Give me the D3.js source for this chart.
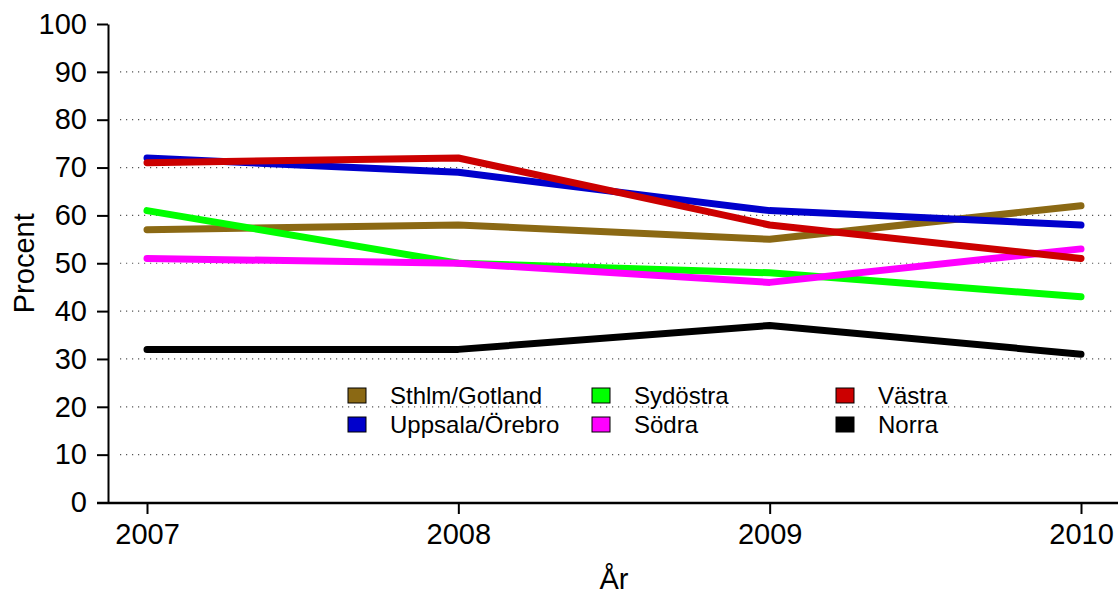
<!DOCTYPE html>
<html>
<head>
<meta charset="utf-8">
<script src="https://cdn.jsdelivr.net/npm/d3@7"></script>
<style>
  body { margin: 0; background: #fff; }
  svg { font-family: "Liberation Sans", Arial, sans-serif; }
</style>
</head>
<body>
<svg width="1120" height="594"></svg>
<script>
const years = [2007, 2008, 2009, 2010];
const regions = ["Sthlm/Gotland", "Uppsala/Örebro", "Sydöstra", "Södra", "Västra", "Norra"];
const colors = ["#8B6914", "#0000CC", "#00FF00", "#FF00FF", "#CC0000", "#000000"];
const sthlm = [57, 58, 55, 62];
const uppsala = [72, 69, 61, 58];
const sydostra = [61, 50, 48, 43];
const sodra = [51, 50, 46, 53];
const vastra = [71, 72, 58, 51];
const norra = [32, 32, 37, 31];
const yTicks = [0, 10, 20, 30, 40, 50, 60, 70, 80, 90, 100];

const series = [sthlm, uppsala, sydostra, sodra, vastra, norra];

const svg = d3.select("svg");

const x = d3.scaleLinear().domain([2007, 2010]).range([147, 1081]);
const y = d3.scaleLinear().domain([0, 100]).range([502.5, 24]);

// grid lines
svg.append("g")
  .selectAll("line")
  .data(yTicks.filter(d => d > 0 && d < 100))
  .join("line")
  .attr("x1", 120).attr("x2", 1116)
  .attr("y1", d => y(d)).attr("y2", d => y(d))
  .attr("stroke", "#555")
  .attr("stroke-width", 1.2)
  .attr("stroke-dasharray", "1.2 4.8");

// y axis
const yAxis = svg.append("g")
  .attr("transform", "translate(108,0)")
  .call(d3.axisLeft(y).tickValues(yTicks).tickSize(11).tickPadding(10).tickSizeOuter(0));
yAxis.select(".domain").attr("stroke", "#000").attr("stroke-width", 2);
yAxis.selectAll(".tick line").attr("stroke", "#000").attr("stroke-width", 2);
yAxis.selectAll(".tick text").attr("font-size", 29).attr("fill", "#000")
  .attr("font-family", "Liberation Sans, Arial, sans-serif");

// x axis
const xAxis = svg.append("g")
  .attr("transform", "translate(0,503)")
  .call(d3.axisBottom(x).tickValues(years).tickFormat(d3.format("d")).tickSize(11).tickPadding(9).tickSizeOuter(0));
xAxis.select(".domain").attr("d", "M97,0H1118").attr("stroke", "#000").attr("stroke-width", 2.5);
xAxis.selectAll(".tick line").attr("stroke", "#000").attr("stroke-width", 2);
xAxis.selectAll(".tick text").attr("font-size", 29).attr("fill", "#000")
  .attr("font-family", "Liberation Sans, Arial, sans-serif");

// axis titles
svg.append("text")
  .attr("transform", `translate(34,${(y(0) + y(100)) / 2}) rotate(-90)`)
  .attr("text-anchor", "middle")
  .attr("font-size", 29)
  .text("Procent");
svg.append("text")
  .attr("x", (x(2007) + x(2010)) / 2)
  .attr("y", 589)
  .attr("text-anchor", "middle")
  .attr("font-size", 29)
  .text("År");

// lines
const line = d3.line().x((d, i) => x(years[i])).y(d => y(d));
svg.append("g")
  .selectAll("path")
  .data(series)
  .join("path")
  .attr("d", d => line(d))
  .attr("fill", "none")
  .attr("stroke", (d, i) => colors[i])
  .attr("stroke-width", 7)
  .attr("stroke-linecap", "round")
  .attr("stroke-linejoin", "round");

// legend
const legCols = [348, 592, 836];
const legRows = [388, 417];
const leg = svg.append("g");
regions.forEach((name, i) => {
  const col = Math.floor(i / 2), row = i % 2;
  leg.append("rect")
    .attr("x", legCols[col]).attr("y", legRows[row])
    .attr("width", 18).attr("height", 15)
    .attr("fill", colors[i])
    .attr("stroke", "#000").attr("stroke-width", 1);
  leg.append("text")
    .attr("x", legCols[col] + 42).attr("y", legRows[row] + 16)
    .attr("font-size", 24)
    .text(name);
});
</script>
</body>
</html>
